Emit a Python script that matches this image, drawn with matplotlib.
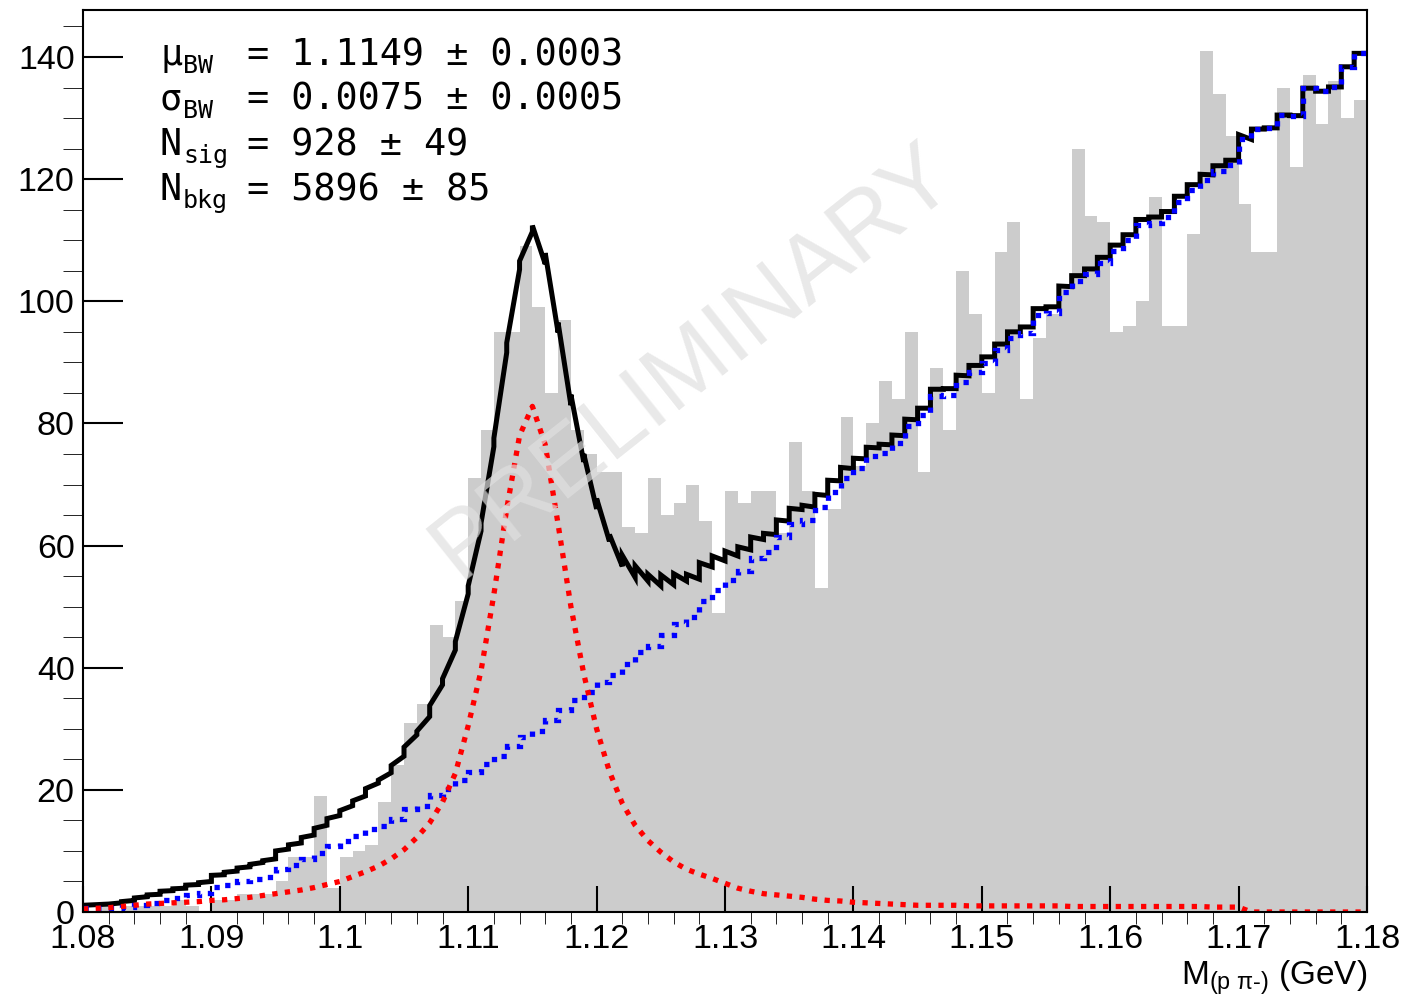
import numpy as np
import matplotlib
matplotlib.use('Agg')
import matplotlib.pyplot as plt
from matplotlib.ticker import MultipleLocator, FormatStrFormatter

plt.rcParams['font.family'] = ['Liberation Sans', 'DejaVu Sans']
plt.rcParams['mathtext.fontset'] = 'custom'
plt.rcParams['mathtext.rm'] = 'Liberation Sans'
plt.rcParams['mathtext.it'] = 'Liberation Sans'

# binning of the invariant mass histogram (GeV)
x_lo, x_hi, n_bins = 1.08, 1.18, 100

# histogram counts per bin
counts = [0, 1, 0, 1, 1, 1, 1, 2, 1, 0,
          2, 2, 3, 3, 3, 5, 9, 9, 19, 4,
          9, 10, 11, 18, 24, 31, 34, 47, 45, 51,
          71, 79, 95, 95, 109, 99, 85, 97, 79, 75,
          72, 72, 63, 62, 71, 65, 67, 70, 64, 49,
          69, 67, 69, 69, 62, 77, 69, 53, 66, 81,
          73, 80, 87, 84, 95, 72, 89, 79, 105, 98,
          85, 108, 113, 84, 94, 98, 102, 125, 114, 113,
          95, 96, 100, 117, 96, 96, 111, 141, 134, 127,
          116, 108, 108, 135, 122, 137, 129, 136, 130, 133]

# background component of the fit, one value per bin
bkg = [0.6, 0.6, 0.6, 0.8, 1.2, 1.5, 2.0, 2.3, 2.8, 3.1,
       4.1, 4.5, 5.0, 5.4, 5.7, 7.0, 7.7, 8.6, 9.7, 10.8,
       11.6, 12.4, 13.6, 14.1, 15.3, 16.8, 17.4, 19.2, 20.2, 21.6,
       22.9, 24.2, 25.6, 27.2, 28.6, 29.6, 31.4, 33.0, 34.7, 36.0,
       37.7, 38.8, 40.6, 42.5, 43.6, 45.4, 47.2, 48.3, 51.0, 52.8,
       54.4, 55.9, 58.0, 59.0, 61.4, 63.5, 64.2, 66.3, 68.8, 71.0,
       72.7, 74.6, 75.2, 76.8, 79.5, 81.4, 84.5, 84.6, 86.8, 88.5,
       89.9, 92.0, 94.0, 94.8, 97.8, 98.1, 101.5, 103.3, 104.4, 106.3,
       108.3, 110.0, 112.5, 112.9, 113.8, 116.3, 118.2, 119.9, 121.4, 122.3,
       126.5, 128.2, 128.4, 130.5, 130.4, 134.9, 134.4, 135.1, 138.4, 140.6]

# signal (Breit-Wigner) component, read at the bin edges
sig = [0.5, 0.6, 0.7, 0.9, 1.1, 1.3, 1.4, 1.5, 1.6, 1.7,
       1.9, 2.0, 2.2, 2.4, 2.7, 3.0, 3.3, 3.6, 4.0, 4.5,
       5.0, 5.8, 6.6, 7.5, 8.7, 10.2, 12.2, 14.6, 18.0, 22.7,
       30.5, 39.5, 52.0, 66.0, 78.0, 82.8, 76.5, 63.5, 50.0, 39.0,
       30.0, 23.0, 17.8, 14.2, 11.7, 9.8, 8.2, 7.0, 6.2, 5.5,
       4.7, 3.9, 3.4, 3.0, 2.8, 2.6, 2.4, 2.1, 1.9, 1.8,
       1.6, 1.5, 1.4, 1.3, 1.2, 1.1, 1.1, 1.1, 1.1, 1.0,
       1.0, 1.0, 1.0, 1.0, 1.0, 1.0, 1.0, 0.9, 0.9, 0.9,
       0.9, 0.9, 0.9, 0.9, 0.9, 0.9, 0.9, 0.9, 0.8, 0.8,
       0.8, 0.0, 0.0, 0.0, 0.0, 0.0, 0.0, 0.0, 0.0, 0.0,
       0.0]

fit_names = ['\u03bc', '\u03c3', 'N', 'N']
fit_subs = ['BW', 'BW', 'sig', 'bkg']
fit_values = ['= 1.1149 \u00b1 0.0003', '= 0.0075 \u00b1 0.0005',
              '= 928 \u00b1 49', '= 5896 \u00b1 85']

W, H = 1407, 996
fig = plt.figure(figsize=(W / 100, H / 100), dpi=100)
ax = fig.add_axes([83 / W, 1 - 912 / H, (1367 - 83) / W, (912 - 10) / H])

edges = np.linspace(x_lo, x_hi, n_bins + 1)

# data histogram
ax.stairs(counts, edges, fill=True, color='#cccccc', lw=0, zorder=1)

# total fit = background steps + smooth signal
xs, ys = [], []
for i in range(n_bins):
    xs += [edges[i], edges[i + 1]]
    ys += [bkg[i] + sig[i], bkg[i] + sig[i + 1]]
ax.plot(xs, ys, color='black', lw=3.6, solid_joinstyle='miter', zorder=3)

# background and signal components
ax.stairs(bkg, edges, baseline=None, color='blue', lw=3.8,
          linestyle=(0, (1, 1.4)), zorder=4)
ax.plot(edges, sig, color='red', lw=3.8, linestyle=(0, (1, 1.4)),
        dash_capstyle='butt', zorder=5)

ax.set_xlim(x_lo, x_hi)
ax.set_ylim(0, 147.7)

ax.xaxis.set_major_locator(MultipleLocator(0.01))
ax.xaxis.set_minor_locator(MultipleLocator(0.002))
ax.yaxis.set_major_locator(MultipleLocator(20))
ax.yaxis.set_minor_locator(MultipleLocator(5))
ax.xaxis.set_major_formatter(FormatStrFormatter('%g'))
ax.yaxis.set_major_formatter(FormatStrFormatter('%g'))

ax.tick_params(direction='in', top=False, right=False, width=1.5,
               labelsize=24.5, colors='black')
ax.tick_params(axis='x', which='major', length=18.5, pad=8.5)
ax.tick_params(axis='x', which='minor', length=8.5)
ax.tick_params(axis='y', which='major', length=29, pad=6)
ax.tick_params(axis='y', which='minor', length=14.5)
for s in ax.spines.values():
    s.set_linewidth(1.5)
    s.set_zorder(6)

# axis title
fig.text(1367 / W, 1 - 985 / H, r'M$_{\mathregular{(p\ \pi\text{-})}}$ (GeV)',
         ha='right', va='baseline', fontsize=24)

# fit results box
for k in range(4):
    yb = 1 - (65 + 45 * k) / H
    fig.text(160 / W, yb, fit_names[k], family='DejaVu Sans Mono',
             fontsize=26.5, va='baseline')
    fig.text(183 / W, yb - 8 / H, fit_subs[k], family='DejaVu Sans Mono',
             fontsize=18, va='baseline')
    fig.text(247 / W, yb, fit_values[k], family='DejaVu Sans Mono',
             fontsize=26.5, va='baseline')

# watermark
ax.text(0.475, 0.61, 'PRELIMINARY', transform=ax.transAxes, rotation=38.5,
        ha='center', va='center', fontsize=68, color=(0.88, 0.88, 0.88),
        alpha=0.7, zorder=7)

fig.savefig('out.png', dpi=100)
